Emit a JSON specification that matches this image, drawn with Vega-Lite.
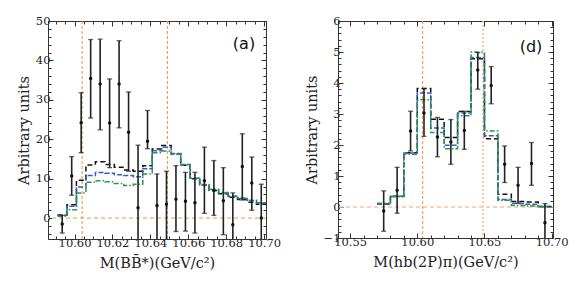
{
  "$schema": "https://vega.github.io/schema/vega-lite/v6.json",
  "background": "white",
  "padding": {"left": 15, "top": 14, "right": 5, "bottom": 5},
  "spacing": 72,
  "bounds": "flush",
  "config": {
    "font": "DejaVu Serif",
    "view": {"stroke": "#333333", "strokeWidth": 1},
    "axis": {
      "labelFont": "DejaVu Serif", "labelFontSize": 11.5, "labelColor": "#222222",
      "titleFont": "DejaVu Serif", "titleFontSize": 14.5, "titleFontWeight": "normal", "titleColor": "#222222",
      "grid": false, "domainColor": "#333333", "tickColor": "#333333", "labelPadding": 3,
      "labelFlush": false, "labelOverlap": false
    }
  },
  "datasets": {
    "histA": [
      {"m": 10.591, "black": 0.8, "blue": 0.7, "green": 0.5},
      {"m": 10.596, "black": 3.4, "blue": 3.0, "green": 2.1},
      {"m": 10.601, "black": 9.6, "blue": 7.9, "green": 6.4},
      {"m": 10.606, "black": 13.5, "blue": 10.8, "green": 9.1},
      {"m": 10.611, "black": 14.3, "blue": 11.6, "green": 9.5},
      {"m": 10.616, "black": 13.6, "blue": 11.4, "green": 9.2},
      {"m": 10.621, "black": 12.9, "blue": 11.0, "green": 8.8},
      {"m": 10.626, "black": 12.2, "blue": 10.8, "green": 8.3},
      {"m": 10.631, "black": 11.9, "blue": 10.5, "green": 8.6},
      {"m": 10.636, "black": 13.3, "blue": 12.5, "green": 11.2},
      {"m": 10.641, "black": 17.5, "blue": 17.1, "green": 16.6},
      {"m": 10.646, "black": 18.4, "blue": 18.0, "green": 17.0},
      {"m": 10.651, "black": 16.3, "blue": 16.4, "green": 16.2},
      {"m": 10.656, "black": 13.4, "blue": 13.6, "green": 13.5},
      {"m": 10.661, "black": 10.0, "blue": 10.1, "green": 10.1},
      {"m": 10.666, "black": 8.4, "blue": 8.4, "green": 8.5},
      {"m": 10.671, "black": 7.0, "blue": 7.2, "green": 7.3},
      {"m": 10.676, "black": 6.2, "blue": 6.4, "green": 6.5},
      {"m": 10.681, "black": 5.3, "blue": 5.5, "green": 5.6},
      {"m": 10.686, "black": 4.7, "blue": 5.0, "green": 5.1},
      {"m": 10.691, "black": 4.0, "blue": 4.4, "green": 4.5},
      {"m": 10.696, "black": 3.5, "blue": 3.8, "green": 3.9},
      {"m": 10.701, "black": 3.5, "blue": 3.8, "green": 3.9}
    ],
    "ptsA": [
      {"m": 10.5935, "v": -1.5, "lo": -3.8, "hi": 0.7},
      {"m": 10.5985, "v": 10.7, "lo": 5.8, "hi": 15.6},
      {"m": 10.6035, "v": 24.2, "lo": 16.6, "hi": 31.8},
      {"m": 10.6085, "v": 35.4, "lo": 25.4, "hi": 45.3},
      {"m": 10.6135, "v": 34.0, "lo": 22.4, "hi": 45.4},
      {"m": 10.6185, "v": 24.1, "lo": 12.8, "hi": 35.3},
      {"m": 10.6235, "v": 34.0, "lo": 22.9, "hi": 45.0},
      {"m": 10.6285, "v": 21.8, "lo": 11.9, "hi": 32.0},
      {"m": 10.6335, "v": 2.6, "lo": -9.0, "hi": 18.5},
      {"m": 10.6385, "v": 19.5, "lo": 17.6, "hi": 27.3},
      {"m": 10.6435, "v": 3.2, "lo": -6.0, "hi": 11.2},
      {"m": 10.6485, "v": 3.5, "lo": -6.0, "hi": 11.9},
      {"m": 10.6535, "v": 4.8, "lo": -3.4, "hi": 13.3},
      {"m": 10.6585, "v": 4.3, "lo": -3.3, "hi": 11.6},
      {"m": 10.6635, "v": 3.9, "lo": -3.8, "hi": 11.6},
      {"m": 10.6685, "v": 9.5, "lo": 1.2, "hi": 18.0},
      {"m": 10.6735, "v": 7.0, "lo": 0.7, "hi": 14.6},
      {"m": 10.6785, "v": 4.4, "lo": -4.2, "hi": 12.8},
      {"m": 10.6835, "v": -1.7, "lo": -9.0, "hi": 6.4},
      {"m": 10.6885, "v": 13.1, "lo": 4.6, "hi": 21.4},
      {"m": 10.6935, "v": 8.9, "lo": 2.0, "hi": 15.5},
      {"m": 10.6985, "v": 0.0, "lo": -8.6, "hi": 8.6}
    ],
    "histD": [
      {"m": 10.57, "black": 0.10, "blue": 0.10, "green": 0.12},
      {"m": 10.58, "black": 0.35, "blue": 0.35, "green": 0.33},
      {"m": 10.59, "black": 1.75, "blue": 1.74, "green": 1.70},
      {"m": 10.60, "black": 3.82, "blue": 3.68, "green": 3.46},
      {"m": 10.61, "black": 2.83, "blue": 2.55, "green": 2.40},
      {"m": 10.62, "black": 2.24, "blue": 1.99, "green": 1.88},
      {"m": 10.63, "black": 3.08, "blue": 3.03, "green": 2.94},
      {"m": 10.64, "black": 4.78, "blue": 4.82, "green": 5.00},
      {"m": 10.65, "black": 2.20, "blue": 2.30, "green": 2.45},
      {"m": 10.66, "black": 0.41, "blue": 0.24, "green": 0.22},
      {"m": 10.67, "black": 0.18, "blue": 0.11, "green": 0.05},
      {"m": 10.68, "black": 0.16, "blue": 0.09, "green": 0.03},
      {"m": 10.69, "black": 0.02, "blue": 0.02, "green": 0.0},
      {"m": 10.70, "black": 0.02, "blue": 0.02, "green": 0.0}
    ],
    "ptsD": [
      {"m": 10.575, "v": -0.13, "lo": -0.78, "hi": 0.52},
      {"m": 10.585, "v": 0.54, "lo": -0.20, "hi": 1.28},
      {"m": 10.595, "v": 2.45, "lo": 1.81, "hi": 3.09},
      {"m": 10.605, "v": 3.03, "lo": 2.28, "hi": 3.82},
      {"m": 10.615, "v": 2.26, "lo": 1.62, "hi": 2.89},
      {"m": 10.625, "v": 2.10, "lo": 1.38, "hi": 2.82},
      {"m": 10.635, "v": 2.47, "lo": 1.86, "hi": 3.09},
      {"m": 10.645, "v": 4.42, "lo": 3.80, "hi": 4.98},
      {"m": 10.655, "v": 3.92, "lo": 3.33, "hi": 4.53},
      {"m": 10.665, "v": 1.38, "lo": 0.79, "hi": 1.97},
      {"m": 10.675, "v": 0.70, "lo": 0.12, "hi": 1.28},
      {"m": 10.685, "v": 1.40, "lo": 0.70, "hi": 2.08},
      {"m": 10.695, "v": -0.51, "lo": -1.13, "hi": 0.11}
    ]
  },
  "hconcat": [
    {
      "width": 218,
      "height": 218,
      "layer": [
        {
          "data": {"values": [{"v": 0}]},
          "mark": {"type": "rule", "color": "#f8c49a", "strokeWidth": 1.6, "strokeDash": [4, 3]},
          "encoding": {
            "y": {"field": "v", "type": "quantitative", "scale": {"domain": [-5.3, 50], "nice": false, "zero": false},
              "axis": {"orient": "left", "title": "Arbitrary units", "titlePadding": 4,
                "values": [-4, -2, 0, 2, 4, 6, 8, 10, 12, 14, 16, 18, 20, 22, 24, 26, 28, 30, 32, 34, 36, 38, 40, 42, 44, 46, 48, 50],
                "labelExpr": "datum.value % 10 === 0 ? datum.label : ''",
                "tickSize": {"condition": {"test": "datum.value % 10 === 0", "value": -5}, "value": -3}}}
          }
        },
        {
          "data": {"values": [{"m": 10.604}, {"m": 10.649}]},
          "mark": {"type": "rule", "color": "#f29a48", "strokeWidth": 1.1, "strokeDash": [3, 2]},
          "encoding": {
            "x": {"field": "m", "type": "quantitative", "scale": {"domain": [10.586, 10.701], "nice": false, "zero": false},
              "axis": {"orient": "bottom", "title": "M(BB̄*)(GeV/c²)", "titlePadding": 6, "format": ".2f",
                "values": [10.59, 10.595, 10.6, 10.605, 10.61, 10.615, 10.62, 10.625, 10.63, 10.635, 10.64, 10.645, 10.65, 10.655, 10.66, 10.665, 10.67, 10.675, 10.68, 10.685, 10.69, 10.695, 10.7],
                "labelExpr": "abs(datum.value * 50 - round(datum.value * 50)) < 0.001 ? datum.label : ''",
                "tickSize": {"condition": {"test": "abs(datum.value * 50 - round(datum.value * 50)) < 0.001", "value": -5}, "value": -3}}}
          }
        },
        {
          "data": {"name": "histA"},
          "mark": {"type": "line", "interpolate": "step-after", "color": "#111111", "strokeWidth": 1.5, "strokeDash": [5, 3], "clip": true},
          "encoding": {
            "x": {"field": "m", "type": "quantitative", "axis": null},
            "y": {"field": "black", "type": "quantitative", "axis": null}
          }
        },
        {
          "data": {"name": "histA"},
          "mark": {"type": "line", "interpolate": "step-after", "color": "#3a5cc8", "strokeWidth": 1.5, "strokeDash": [5, 2], "clip": true},
          "encoding": {
            "x": {"field": "m", "type": "quantitative", "axis": null},
            "y": {"field": "blue", "type": "quantitative", "axis": null}
          }
        },
        {
          "data": {"name": "histA"},
          "mark": {"type": "line", "interpolate": "step-after", "color": "#259a48", "strokeWidth": 1.5, "strokeDash": [5, 2, 1.5, 2], "clip": true},
          "encoding": {
            "x": {"field": "m", "type": "quantitative", "axis": null},
            "y": {"field": "green", "type": "quantitative", "axis": null}
          }
        },
        {
          "data": {"name": "ptsA"},
          "mark": {"type": "rule", "color": "#222222", "strokeWidth": 1.6, "clip": true},
          "encoding": {
            "x": {"field": "m", "type": "quantitative", "axis": null},
            "y": {"field": "lo", "type": "quantitative", "axis": null},
            "y2": {"field": "hi"}
          }
        },
        {
          "data": {"name": "ptsA"},
          "mark": {"type": "tick", "orient": "horizontal", "color": "#222222", "size": 5, "thickness": 1.3, "clip": true},
          "encoding": {
            "x": {"field": "m", "type": "quantitative", "axis": null},
            "y": {"field": "hi", "type": "quantitative", "axis": null}
          }
        },
        {
          "data": {"name": "ptsA"},
          "mark": {"type": "tick", "orient": "horizontal", "color": "#222222", "size": 5, "thickness": 1.3, "clip": true},
          "encoding": {
            "x": {"field": "m", "type": "quantitative", "axis": null},
            "y": {"field": "lo", "type": "quantitative", "axis": null}
          }
        },
        {
          "data": {"name": "ptsA"},
          "mark": {"type": "point", "filled": true, "color": "#111111", "size": 12, "opacity": 1, "clip": true},
          "encoding": {
            "x": {"field": "m", "type": "quantitative", "axis": null},
            "y": {"field": "v", "type": "quantitative", "axis": null}
          }
        },
        {
          "data": {"values": [{"m": 10.6894, "v": 44.2, "t": "(a)"}]},
          "mark": {"type": "text", "font": "DejaVu Sans", "fontSize": 16, "color": "#111111"},
          "encoding": {
            "x": {"field": "m", "type": "quantitative", "axis": {"orient": "top", "labels": false, "title": null, "values": [10.59, 10.595, 10.6, 10.605, 10.61, 10.615, 10.62, 10.625, 10.63, 10.635, 10.64, 10.645, 10.65, 10.655, 10.66, 10.665, 10.67, 10.675, 10.68, 10.685, 10.69, 10.695, 10.7],
                "tickSize": {"condition": {"test": "abs(datum.value * 50 - round(datum.value * 50)) < 0.001", "value": -5}, "value": -3}}},
            "y": {"field": "v", "type": "quantitative", "axis": {"orient": "right", "labels": false, "title": null, "values": [-4, -2, 0, 2, 4, 6, 8, 10, 12, 14, 16, 18, 20, 22, 24, 26, 28, 30, 32, 34, 36, 38, 40, 42, 44, 46, 48, 50],
                "tickSize": {"condition": {"test": "datum.value % 10 === 0", "value": -5}, "value": -3}}},
            "text": {"field": "t"}
          }
        }
      ],
      "resolve": {"axis": {"x": "independent", "y": "independent"}}
    },
    {
      "width": 215,
      "height": 217,
      "layer": [
        {
          "data": {"values": [{"v": 0}]},
          "mark": {"type": "rule", "color": "#f8c49a", "strokeWidth": 1.6, "strokeDash": [4, 3]},
          "encoding": {
            "y": {"field": "v", "type": "quantitative", "scale": {"domain": [-1, 6], "nice": false, "zero": false},
              "axis": {"orient": "left", "title": "Arbitrary units", "titlePadding": 4, "format": ".1f",
                "values": [-1, -0.8, -0.6, -0.4, -0.2, 0, 0.2, 0.4, 0.6, 0.8, 1, 1.2, 1.4, 1.6, 1.8, 2, 2.2, 2.4, 2.6, 2.8, 3, 3.2, 3.4, 3.6, 3.8, 4, 4.2, 4.4, 4.6, 4.8, 5, 5.2, 5.4, 5.6, 5.8, 6],
                "labelExpr": "abs(datum.value - round(datum.value)) < 0.001 ? format(datum.value, '.0f') : ''",
                "tickSize": {"condition": {"test": "abs(datum.value - round(datum.value)) < 0.001", "value": -5}, "value": -3}}}
          }
        },
        {
          "data": {"values": [{"m": 10.604}]},
          "mark": {"type": "rule", "color": "#f29a48", "strokeWidth": 1.1, "strokeDash": [3, 2]},
          "encoding": {
            "x": {"field": "m", "type": "quantitative", "scale": {"domain": [10.541, 10.701], "nice": false, "zero": false},
              "axis": {"orient": "bottom", "title": "M(hb(2P)π)(GeV/c²)", "titlePadding": 6, "format": ".2f",
                "values": [10.55, 10.56, 10.57, 10.58, 10.59, 10.6, 10.61, 10.62, 10.63, 10.64, 10.65, 10.66, 10.67, 10.68, 10.69, 10.7],
                "labelExpr": "abs(datum.value * 20 - round(datum.value * 20)) < 0.001 ? datum.label : ''",
                "tickSize": {"condition": {"test": "abs(datum.value * 20 - round(datum.value * 20)) < 0.001", "value": -5}, "value": -3}}}
          }
        },
        {
          "data": {"values": [{"m": 10.649}]},
          "mark": {"type": "rule", "color": "#f8c49a", "strokeWidth": 1.8, "strokeDash": [2, 2]},
          "encoding": {
            "x": {"field": "m", "type": "quantitative", "axis": null}
          }
        },
        {
          "data": {"name": "histD"},
          "mark": {"type": "line", "interpolate": "step-after", "color": "#111111", "strokeWidth": 1.5, "strokeDash": [5, 3], "clip": true},
          "encoding": {
            "x": {"field": "m", "type": "quantitative", "axis": null},
            "y": {"field": "black", "type": "quantitative", "axis": null}
          }
        },
        {
          "data": {"name": "histD"},
          "mark": {"type": "line", "interpolate": "step-after", "color": "#3a5cc8", "strokeWidth": 1.5, "strokeDash": [5, 2], "clip": true},
          "encoding": {
            "x": {"field": "m", "type": "quantitative", "axis": null},
            "y": {"field": "blue", "type": "quantitative", "axis": null}
          }
        },
        {
          "data": {"name": "histD"},
          "mark": {"type": "line", "interpolate": "step-after", "color": "#259a48", "strokeWidth": 1.5, "strokeDash": [5, 2, 1.5, 2], "clip": true},
          "encoding": {
            "x": {"field": "m", "type": "quantitative", "axis": null},
            "y": {"field": "green", "type": "quantitative", "axis": null}
          }
        },
        {
          "data": {"name": "ptsD"},
          "mark": {"type": "rule", "color": "#222222", "strokeWidth": 1.6, "clip": true},
          "encoding": {
            "x": {"field": "m", "type": "quantitative", "axis": null},
            "y": {"field": "lo", "type": "quantitative", "axis": null},
            "y2": {"field": "hi"}
          }
        },
        {
          "data": {"name": "ptsD"},
          "mark": {"type": "tick", "orient": "horizontal", "color": "#222222", "size": 5, "thickness": 1.3, "clip": true},
          "encoding": {
            "x": {"field": "m", "type": "quantitative", "axis": null},
            "y": {"field": "hi", "type": "quantitative", "axis": null}
          }
        },
        {
          "data": {"name": "ptsD"},
          "mark": {"type": "tick", "orient": "horizontal", "color": "#222222", "size": 5, "thickness": 1.3, "clip": true},
          "encoding": {
            "x": {"field": "m", "type": "quantitative", "axis": null},
            "y": {"field": "lo", "type": "quantitative", "axis": null}
          }
        },
        {
          "data": {"name": "ptsD"},
          "mark": {"type": "point", "filled": true, "color": "#111111", "size": 12, "opacity": 1, "clip": true},
          "encoding": {
            "x": {"field": "m", "type": "quantitative", "axis": null},
            "y": {"field": "v", "type": "quantitative", "axis": null}
          }
        },
        {
          "data": {"values": [{"m": 10.6846, "v": 5.16, "t": "(d)"}]},
          "mark": {"type": "text", "font": "DejaVu Sans", "fontSize": 16, "color": "#111111"},
          "encoding": {
            "x": {"field": "m", "type": "quantitative", "axis": {"orient": "top", "labels": false, "title": null, "values": [10.55, 10.56, 10.57, 10.58, 10.59, 10.6, 10.61, 10.62, 10.63, 10.64, 10.65, 10.66, 10.67, 10.68, 10.69, 10.7],
                "tickSize": {"condition": {"test": "abs(datum.value * 20 - round(datum.value * 20)) < 0.001", "value": -5}, "value": -3}}},
            "y": {"field": "v", "type": "quantitative", "axis": {"orient": "right", "labels": false, "title": null, "values": [-1, -0.8, -0.6, -0.4, -0.2, 0, 0.2, 0.4, 0.6, 0.8, 1, 1.2, 1.4, 1.6, 1.8, 2, 2.2, 2.4, 2.6, 2.8, 3, 3.2, 3.4, 3.6, 3.8, 4, 4.2, 4.4, 4.6, 4.8, 5, 5.2, 5.4, 5.6, 5.8, 6],
                "tickSize": {"condition": {"test": "abs(datum.value - round(datum.value)) < 0.001", "value": -5}, "value": -3}}},
            "text": {"field": "t"}
          }
        }
      ],
      "resolve": {"axis": {"x": "independent", "y": "independent"}}
    }
  ]
}
